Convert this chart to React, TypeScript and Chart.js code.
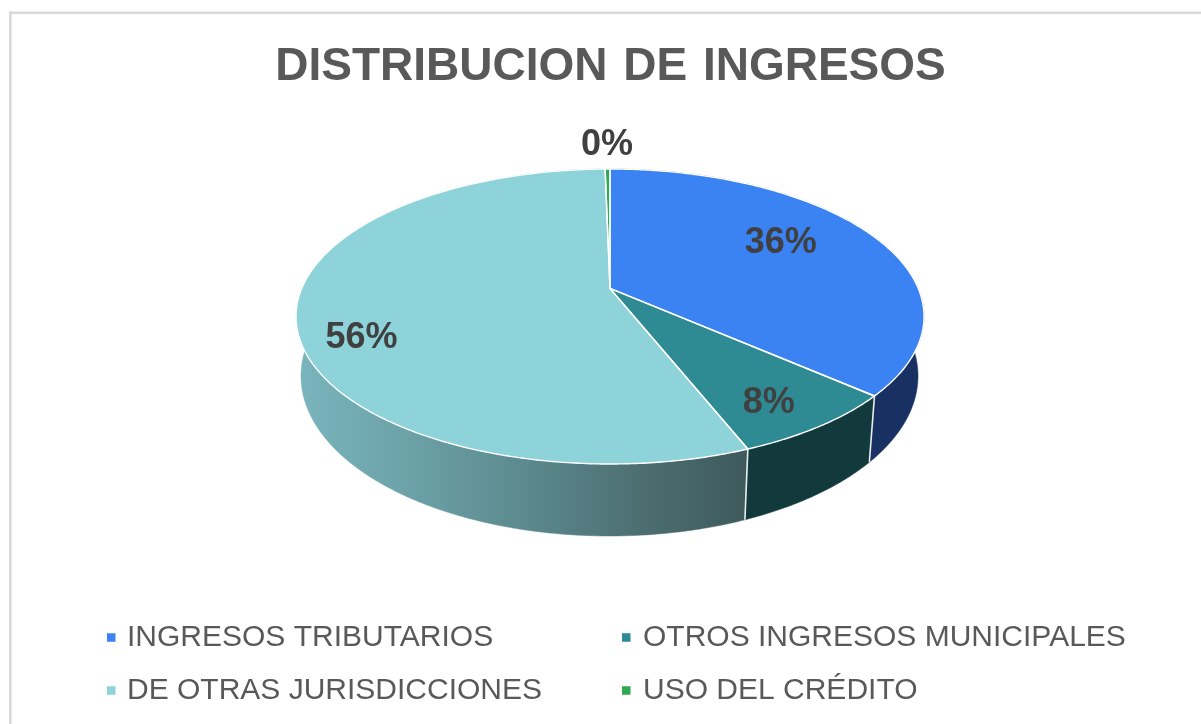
import React, { useEffect, useRef } from "react";
import { Chart, registerables } from "chart.js";

Chart.register(...registerables);

const categories = ["INGRESOS TRIBUTARIOS", "OTROS INGRESOS MUNICIPALES", "DE OTRAS JURISDICCIONES", "USO DEL CRÉDITO"];
const shares = [36.5, 7.5, 55.7, 0.3];
const percentLabels = ["36%", "8%", "56%", "0%"];
const chartTitle = "DISTRIBUCION DE INGRESOS";

const topColors = ["#3b82f2", "#2e8b94", "#8dd3d9", "#2fa84f"];
const sideColors = ["#183062", "#123a3c", "", "#14532a"];
const teal = ["#7ab4bc", "#6ba1a7", "#5c8a8e", "#4d7073", "#3e5a5c"];

const TOP = { cx: 610, cy: 316.5, rx: 314, ry: 147.5 };
const BOTTOM = { cx: 609.5, cy: 376, rx: 308.5, ry: 160 };
const TILT = -0.19;
const SQUEEZE = Math.sqrt(1 - TILT * TILT);

function project(face: typeof TOP, a: number, r = 1) {
  const u = r * Math.cos(a);
  const v = r * Math.sin(a);
  const w = 1 + TILT * v;
  return { x: face.cx + (face.rx * u * SQUEEZE) / w, y: face.cy + (face.ry * (v + TILT)) / w };
}

function arcPoints(face: typeof TOP, a: number, b: number) {
  const n = Math.max(2, Math.ceil((b - a) / 0.01));
  const pts = [];
  for (let i = 0; i <= n; i++) pts.push(project(face, a + ((b - a) * i) / n));
  return pts;
}

// per-slice label placement: angular shift (deg) and radial factor on the pie face
const labelShift = [-6.7, 2, -11, 0];
const labelRadius = [0.69, 0.82, 0.82, 1.27];

const pie3d = {
  id: "pie3d",
  beforeDraw(chart: any) {
    const { ctx, width, height } = chart;
    ctx.save();
    ctx.fillStyle = "#ffffff";
    ctx.fillRect(0, 0, width, height);
    ctx.fillStyle = "#d9d9d9";
    ctx.fillRect(9, 11.5, width - 9, 2.6);
    ctx.fillRect(9, 11.5, 2.6, height - 11.5);
    ctx.restore();
    ctx.wordSpacing = "3px"; // title only; reset before the pie is drawn
  },
  beforeDatasetDraw(chart: any, args: any) {
    const { ctx } = chart;
    ctx.wordSpacing = "0px";
    const arcs = chart.getDatasetMeta(args.index).data;
    ctx.save();
    const tealGrad = ctx.createLinearGradient(300, 0, 745, 0);
    teal.forEach((c, i) => tealGrad.addColorStop(i / (teal.length - 1), c));

    // side wall
    arcs.forEach((arc: any, i: number) => {
      const t = arcPoints(TOP, arc.startAngle, arc.endAngle);
      const b = arcPoints(BOTTOM, arc.startAngle, arc.endAngle).reverse();
      ctx.beginPath();
      [...t, ...b].forEach((p, k) => (k ? ctx.lineTo(p.x, p.y) : ctx.moveTo(p.x, p.y)));
      ctx.closePath();
      const fill = sideColors[i] || tealGrad;
      ctx.fillStyle = fill;
      ctx.strokeStyle = fill;
      ctx.lineWidth = 0.5;
      ctx.fill();
      ctx.stroke();
    });

    // seams on visible wall boundaries
    ctx.strokeStyle = "#e8eeee";
    ctx.lineWidth = 1.6;
    arcs.forEach((arc: any) => {
      if (Math.sin(arc.startAngle) > 0.2) {
        const p = project(TOP, arc.startAngle);
        const q = project(BOTTOM, arc.startAngle);
        ctx.beginPath();
        ctx.moveTo(p.x, p.y);
        ctx.lineTo(q.x, q.y);
        ctx.stroke();
      }
    });

    // top face
    arcs.forEach((arc: any, i: number) => {
      const c = project(TOP, 0, 0);
      const pts = arcPoints(TOP, arc.startAngle, arc.endAngle);
      ctx.beginPath();
      ctx.moveTo(c.x, c.y);
      pts.forEach((p) => ctx.lineTo(p.x, p.y));
      ctx.closePath();
      ctx.fillStyle = topColors[i];
      ctx.fill();
    });
    ctx.strokeStyle = "#ffffff";
    ctx.lineWidth = 1.4;
    ctx.lineJoin = "round";
    arcs.forEach((arc: any) => {
      const c = project(TOP, 0, 0);
      const pts = arcPoints(TOP, arc.startAngle, arc.endAngle);
      ctx.beginPath();
      ctx.moveTo(c.x, c.y);
      pts.forEach((p) => ctx.lineTo(p.x, p.y));
      ctx.closePath();
      ctx.stroke();
    });
    ctx.restore();
    return false;
  },
  afterDatasetsDraw(chart: any) {
    const { ctx } = chart;
    const arcs = chart.getDatasetMeta(0).data;
    ctx.save();
    ctx.font = "bold 36px 'Liberation Sans'";
    ctx.fillStyle = "#404040";
    ctx.textAlign = "center";
    ctx.textBaseline = "middle";
    arcs.forEach((arc: any, i: number) => {
      const mid = (arc.startAngle + arc.endAngle) / 2 + (labelShift[i] * Math.PI) / 180;
      const p = project(TOP, mid, labelRadius[i]);
      ctx.fillText(percentLabels[i], p.x, p.y + 2);
    });

    // legend, laid out in two aligned columns
    ctx.font = "30px 'Liberation Sans'";
    ctx.textAlign = "left";
    categories.forEach((name, i) => {
      const col = i % 2;
      const row = Math.floor(i / 2);
      const y = 637.5 + row * 53;
      const x = col ? 622 : 107;
      ctx.fillStyle = topColors[i];
      ctx.fillRect(x, y - 4.25, 8.5, 8.5);
      ctx.fillStyle = "#595959";
      ctx.fillText(name, x + (col ? 21 : 20), y);
    });
    ctx.restore();
  },
};

export default function App() {
  const ref = useRef<HTMLCanvasElement>(null);
  useEffect(() => {
    document.body.style.margin = "0";
    const chart = new Chart(ref.current as HTMLCanvasElement, {
      type: "pie",
      data: {
        labels: categories,
        datasets: [{ data: shares, backgroundColor: topColors }],
      },
      options: {
        animation: false,
        responsive: false,
        layout: { padding: { left: 20, top: 40 } },
        plugins: {
          legend: { display: false },
          tooltip: { enabled: false },
          title: {
            display: true,
            text: chartTitle,
            color: "#595959",
            font: { family: "'Liberation Sans'", size: 46, weight: "bold" },
            padding: 0,
          },
        },
      },
      plugins: [pie3d],
    } as any);
    return () => chart.destroy();
  }, []);
  return <canvas ref={ref} width={1201} height={724} style={{ display: "block", filter: "blur(0.4px)" }} />;
}
